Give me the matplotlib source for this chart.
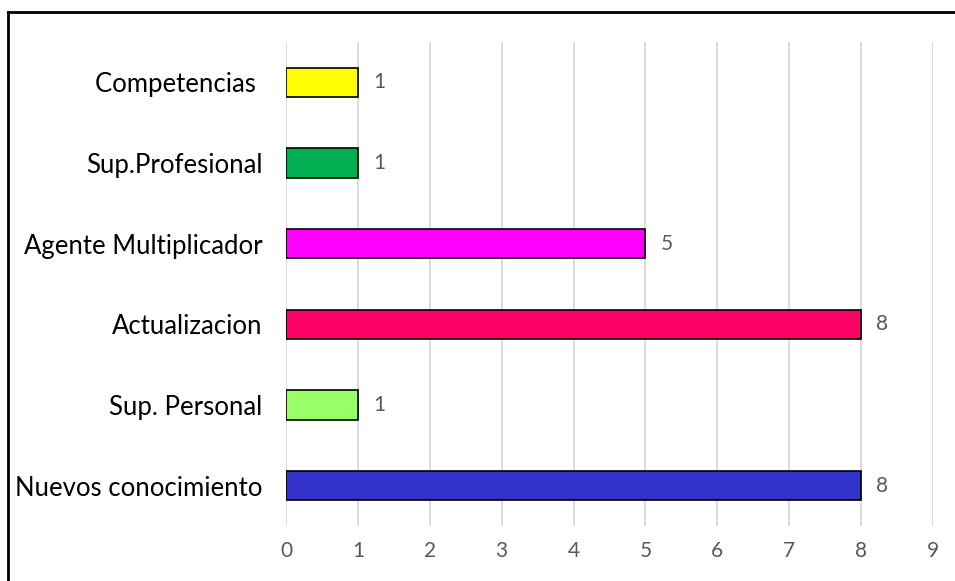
import matplotlib.pyplot as plt
from matplotlib.lines import Line2D

categorias = ["Nuevos conocimiento", "Sup. Personal", "Actualizacion",
              "Agente Multiplicador", "Sup.Profesional", "Competencias "]
valores = [8, 1, 8, 5, 1, 1]
colores = ["#3333CC", "#99FF66", "#FF0066", "#FF00FF", "#00B050", "#FFFF00"]
ticks_x = list(range(0, 10))

plt.rcParams['font.family'] = ['Lato', 'DejaVu Sans']

fig = plt.figure(figsize=(9.55, 5.81), dpi=100)
ax = fig.add_axes([286 / 955, 1 - 526 / 581, (933 - 286) / 955, (526 - 42) / 581])

pos = list(range(len(categorias)))
barras = ax.barh(pos, valores, height=0.36, color=colores,
                 edgecolor="black", linewidth=1.2, zorder=3)

for b, v in zip(barras, valores):
    ax.annotate(str(v), (b.get_width(), b.get_y() + b.get_height() / 2),
                xytext=(11, 0), textcoords="offset points",
                va="center", ha="left", fontsize=15, color="#595959")

ax.set_xlim(0, 9)
ax.set_ylim(-0.5, len(categorias) - 0.5)
ax.set_xticks(ticks_x)
ax.set_yticks(pos)
ax.set_yticklabels(categorias, fontsize=18.5, color="black")
ax.tick_params(axis="x", length=0, pad=11, labelsize=15, labelcolor="#595959")
ax.tick_params(axis="y", length=0, pad=17)
ax.grid(axis="x", color="#D9D9D9", linewidth=1.3, zorder=0)
for s in ax.spines.values():
    s.set_visible(False)

# marco exterior (solo izquierda y arriba quedan dentro)
fig.add_artist(Line2D([8 / 955, 8 / 955], [0, 1 - 12 / 581], transform=fig.transFigure,
                      color="black", linewidth=2))
fig.add_artist(Line2D([8 / 955, 1], [1 - 12 / 581, 1 - 12 / 581], transform=fig.transFigure,
                      color="black", linewidth=2))

fig.savefig("out.png", dpi=100)
